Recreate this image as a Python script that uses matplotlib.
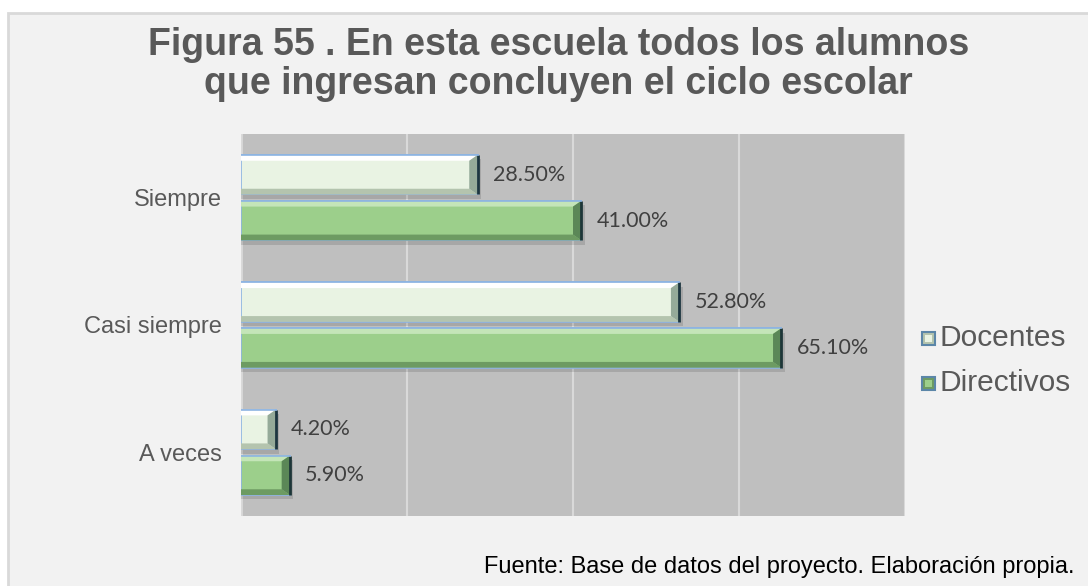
import matplotlib.pyplot as plt
from matplotlib.patches import Polygon, Rectangle

# Respuestas por categoria (A veces abajo, Siempre arriba)
categorias = ['A veces', 'Casi siempre', 'Siempre']
docentes = [4.2, 52.8, 28.5]
directivos = [5.9, 65.1, 41.0]
etiquetas_doc = ['4.20%', '52.80%', '28.50%']
etiquetas_dir = ['5.90%', '65.10%', '41.00%']

titulo = 'Figura 55 . En esta escuela todos los alumnos\nque ingresan concluyen el ciclo escolar'
fuente = 'Fuente: Base de datos del proyecto. Elaboración propia.'

# colores: base, bisel superior, bisel inferior, extremo, borde oscuro
col_doc = ('#e9f3e3', '#ffffff', '#b4c4ae', '#95aa99', '#1d3640')
col_dir = ('#9ccf8b', '#c4e5b8', '#6d9b62', '#5b8757', '#1d3638')

fig = plt.figure(figsize=(10.88, 5.86), dpi=100)
fig.patch.set_facecolor('white')
fig.patches.append(Rectangle((8 / 1088, -0.01), 1.02, 1 - 13 / 586 + 0.01,
                             transform=fig.transFigure, facecolor='#f2f2f2',
                             edgecolor='#d9d9d9', linewidth=2, zorder=-10))

ax = fig.add_axes([241 / 1088, 1 - 516 / 586, 664 / 1088, 382 / 586])
ax.set_facecolor('#bfbfbf')
ax.set_xlim(0, 80)
ax.set_ylim(-0.5, 2.5)
ax.set_xticks([0, 20, 40, 60, 80])
ax.xaxis.grid(True, color='#d9d9d9', linewidth=1.5)
ax.set_axisbelow(True)
ax.tick_params(axis='x', length=0, labelbottom=False)
ax.tick_params(axis='y', length=0, pad=14, labelsize=17, labelcolor='#595959')
for s in ax.spines.values():
    s.set_visible(False)
ax.axvline(0, color='#d9d9d9', linewidth=2, zorder=1)
ax.set_yticks(range(len(categorias)))
ax.set_yticklabels(categorias, fontfamily='Liberation Sans')

h = 0.31
dx = 1.0
dy = 0.045


def barra(y, w, c):
    base, top, bot, end, dark = c
    t, b = y + h / 2, y - h / 2
    ax.add_patch(Rectangle((0, b - 0.035), w + 0.4, h, facecolor='black',
                           alpha=0.12, linewidth=0, zorder=2))
    ax.add_patch(Rectangle((0, b), w, h, facecolor=base, edgecolor='#8db4e2',
                           linewidth=1.2, zorder=3))
    ex = min(dx, w / 2)
    ax.add_patch(Polygon([(0, t), (w, t), (w - ex, t - dy), (0, t - dy)],
                         closed=True, facecolor=top, linewidth=0, zorder=4))
    ax.add_patch(Polygon([(0, b), (w, b), (w - ex, b + dy), (0, b + dy)],
                         closed=True, facecolor=bot, linewidth=0, zorder=4))
    ax.add_patch(Polygon([(w, t), (w, b), (w - ex, b + dy), (w - ex, t - dy)],
                         closed=True, facecolor=end, linewidth=0, zorder=4))
    ax.plot([w, w], [b, t], color=dark, linewidth=2, zorder=5,
            solid_capstyle='butt')
    ax.plot([0, w], [t, t], color='#8db4e2', linewidth=1.2, zorder=5)


for i in range(len(categorias)):
    barra(i + 0.18, docentes[i], col_doc)
    barra(i - 0.18, directivos[i], col_dir)
    ax.annotate(etiquetas_doc[i], (docentes[i], i + 0.18), xytext=(11, 0),
                textcoords='offset points', va='center', ha='left',
                fontsize=15.5, color='#404040', fontfamily='Lato')
    ax.annotate(etiquetas_dir[i], (directivos[i], i - 0.18), xytext=(11, 0),
                textcoords='offset points', va='center', ha='left',
                fontsize=15.5, color='#404040', fontfamily='Lato')

# leyenda con cuadritos biselados
leg_y = [1 - 338 / 586, 1 - 383 / 586]
for yy, nombre, c in zip(leg_y, ['Docentes', 'Directivos'], [col_doc, col_dir]):
    fig.patches.append(Rectangle((922 / 1088, yy - 6.5 / 586), 13 / 1088, 13 / 586,
                                 transform=fig.transFigure, facecolor=c[2],
                                 edgecolor='#5b86a8', linewidth=1.5, zorder=5))
    fig.patches.append(Rectangle((925 / 1088, yy - 3.5 / 586), 7 / 1088, 7 / 586,
                                 transform=fig.transFigure, facecolor=c[0],
                                 linewidth=0, zorder=6))
    fig.text(940 / 1088, yy, nombre, fontsize=21.5, color='#595959',
             va='center', ha='left', fontfamily='Liberation Sans')

fig.text(0.513, 1 - 27 / 586, titulo, fontsize=27, fontweight='bold',
         color='#595959', ha='center', va='top', linespacing=1.12,
         fontfamily='Liberation Sans')
fig.text(1075 / 1088, 1 - 567 / 586, fuente, fontsize=17, color='black',
         ha='right', va='center', fontfamily='Liberation Sans')

fig.savefig('out.png', dpi=100, facecolor=fig.get_facecolor())
